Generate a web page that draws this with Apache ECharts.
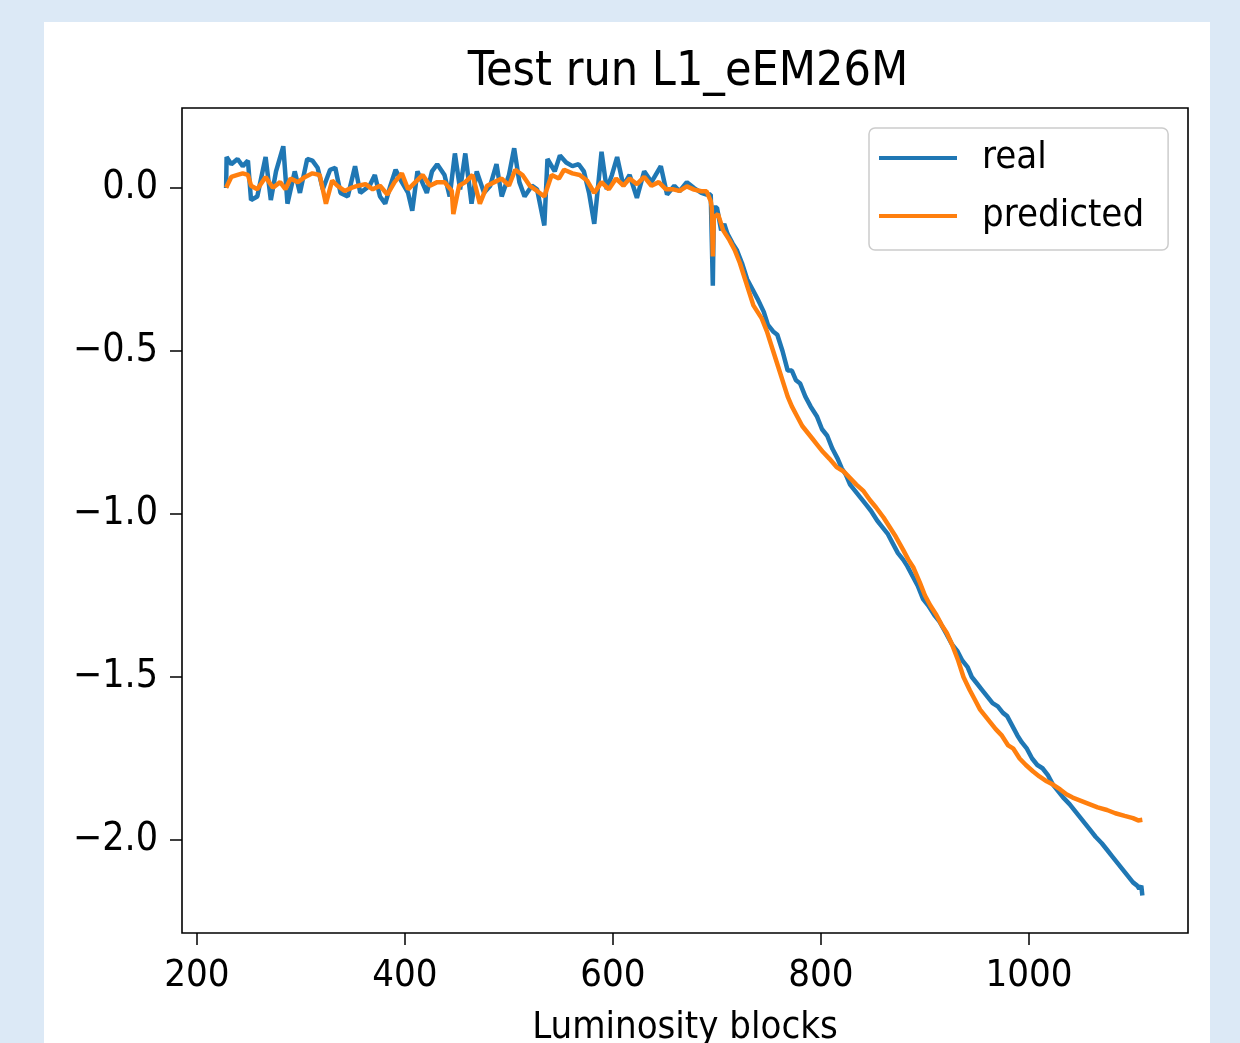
<!DOCTYPE html>
<html>
<head>
<meta charset="utf-8">
<script src="https://cdn.jsdelivr.net/npm/echarts@6/dist/echarts.min.js"></script>
<style>
  html, body { margin: 0; padding: 0; background: #dce9f6; }
  .panel { position: absolute; left: 44px; top: 22px; width: 1166px; height: 1021px; background: #fff; }
  #chart { position: absolute; left: 0; top: 0; width: 1240px; height: 1043px; }
</style>
</head>
<body>
<div class="panel"></div>
<div id="chart"></div>
<script>
// luminosity blocks / normalised rate
const realX = [228, 228.5, 233, 239, 244, 249, 252, 258, 266, 271, 276, 283, 287, 294, 299, 306, 311, 316, 321, 328,
  333, 338, 345, 352, 357, 366, 371, 376, 381, 386, 391, 397, 403, 407, 412, 421, 426, 431, 438, 443,
  448, 453, 458, 464, 469, 476, 482, 488, 493, 500, 505, 510, 515, 522, 527, 534, 537, 544, 549, 555,
  561, 567, 572, 577, 582, 589, 594, 599, 604, 610, 616, 623, 630, 637, 646, 652, 659, 664, 671, 678,
  685, 690, 694, 696, 697, 700, 704, 707, 710, 715, 719, 724, 729, 734, 739, 745, 749, 754, 758, 763,
  768, 772, 776, 780, 785, 790, 796, 801, 806, 811, 816, 820, 824, 828, 833, 838, 843, 848, 854, 859,
  864, 869, 874, 879, 883, 888, 893, 898, 903, 909, 914, 921, 926, 931, 936, 941, 945, 950, 955, 960,
  965, 970, 975, 979, 984, 989, 993, 998, 1003, 1008, 1013, 1018, 1023, 1028, 1033, 1039, 1044, 1049, 1054, 1059,
  1064, 1070, 1075, 1080, 1085, 1090, 1095, 1100, 1104, 1106, 1108, 1109];
const realY = [0.0, 0.095, 0.073, 0.089, 0.067, 0.084, -0.037, -0.026, 0.095, -0.037, 0.051, 0.128, -0.048, 0.051, -0.015, 0.089, 0.084, 0.062, -0.004, 0.056,
  0.062, -0.015, -0.026, 0.067, -0.015, 0.007, 0.040, -0.026, -0.048, 0.007, 0.056, 0.018, -0.015, -0.070, 0.051, -0.015, 0.051, 0.073, 0.040, -0.026,
  0.106, -0.004, 0.106, -0.048, 0.051, -0.015, 0.007, 0.073, -0.026, 0.040, 0.122, 0.018, -0.026, 0.007, -0.004, -0.115, 0.089, 0.051, 0.100, 0.078,
  0.067, 0.073, 0.051, -0.015, -0.110, 0.111, -0.004, 0.040, 0.095, 0.007, 0.040, -0.030, 0.051, 0.018, 0.067, -0.020, 0.007, -0.010, 0.018, 0.000,
  -0.015, -0.020, -0.020, -0.300, -0.060, -0.060, -0.130, -0.110, -0.140, -0.170, -0.190, -0.230, -0.280, -0.310, -0.340, -0.380, -0.420, -0.440, -0.450, -0.500,
  -0.560, -0.560, -0.590, -0.600, -0.640, -0.670, -0.700, -0.740, -0.760, -0.800, -0.830, -0.860, -0.880, -0.910, -0.930, -0.950, -0.970, -0.990, -1.020, -1.040,
  -1.060, -1.090, -1.120, -1.140, -1.160, -1.190, -1.220, -1.260, -1.280, -1.310, -1.330, -1.370, -1.400, -1.420, -1.450, -1.470, -1.500, -1.520, -1.540, -1.560,
  -1.580, -1.590, -1.610, -1.620, -1.650, -1.680, -1.700, -1.720, -1.750, -1.770, -1.780, -1.800, -1.830, -1.850, -1.870, -1.890, -1.910, -1.930, -1.950, -1.970,
  -1.990, -2.010, -2.030, -2.050, -2.070, -2.090, -2.110, -2.130, -2.140, -2.150, -2.140, -2.170];

const predX = [228, 233, 239, 244, 249, 252, 258, 266, 273, 280, 285, 290, 297, 304, 311, 318, 324, 330, 335, 342,
  349, 355, 362, 369, 376, 383, 390, 397, 403, 410, 417, 424, 431, 438, 445, 446.5, 452, 458, 465, 472,
  479, 486, 493, 500, 506, 513, 520, 527, 534, 541, 548, 553, 561, 568, 575, 582, 589, 596, 603, 610,
  616, 623, 630, 637, 644, 651, 658, 664, 671, 678, 685, 690, 694, 695, 696, 697, 701, 706, 712, 717,
  722, 727, 731, 735, 739, 743, 748, 754, 759, 764, 768, 772, 777, 782, 787, 792, 797, 802, 808, 815,
  822, 828, 834, 841, 847, 853, 860, 866, 872, 879, 884, 889, 895, 900, 905, 911, 916, 921, 926, 932,
  937, 943, 948, 953, 958, 963, 968, 974, 980, 985, 991, 997, 1004, 1010, 1017, 1023, 1030, 1036, 1042, 1050,
  1058, 1066, 1075, 1083, 1092, 1100, 1105, 1109];
const predY = [0.001, 0.034, 0.040, 0.045, 0.040, 0.007, -0.004, 0.034, 0.001, 0.018, -0.004, 0.029, 0.018, 0.034, 0.045, 0.040, -0.048, 0.023, 0.007, -0.009,
  0.001, 0.007, 0.012, -0.004, 0.007, -0.020, 0.018, 0.045, -0.004, 0.018, 0.040, 0.007, 0.018, 0.018, -0.009, -0.080, 0.007, 0.018, 0.040, -0.048,
  0.007, 0.018, 0.029, 0.007, 0.056, 0.040, 0.007, -0.009, -0.026, 0.040, 0.029, 0.056, 0.045, 0.040, 0.023, -0.015, 0.018, -0.004, 0.029, 0.007,
  0.029, 0.012, 0.034, 0.007, 0.018, -0.004, -0.004, -0.009, 0.005, -0.005, -0.010, -0.010, -0.040, -0.060, -0.210, -0.090, -0.080, -0.130, -0.160, -0.190,
  -0.230, -0.280, -0.320, -0.360, -0.380, -0.400, -0.440, -0.500, -0.550, -0.600, -0.640, -0.670, -0.700, -0.730, -0.750, -0.770, -0.790, -0.810, -0.830, -0.856,
  -0.870, -0.890, -0.910, -0.930, -0.957, -0.980, -1.010, -1.040, -1.070, -1.110, -1.140, -1.165, -1.210, -1.250, -1.280, -1.310, -1.340, -1.365, -1.400, -1.450,
  -1.500, -1.540, -1.570, -1.600, -1.620, -1.640, -1.660, -1.680, -1.710, -1.720, -1.750, -1.770, -1.790, -1.805, -1.820, -1.830, -1.845, -1.860, -1.870, -1.880,
  -1.890, -1.900, -1.908, -1.918, -1.926, -1.933, -1.940, -1.938];

const xTicks = [200, 400, 600, 800, 1000];
const yTicks = [-2, -1.5, -1, -0.5, 0];

const font = '"DejaVu Sans Condensed", "DejaVu Sans"';
const zip = (xs, ys) => xs.map((x, i) => [x, ys[i]]);

const myChart = echarts.init(document.getElementById('chart'));
const option = {
  animation: false,
  backgroundColor: 'transparent',
  title: {
    text: 'Test run L1_eEM26M',
    left: 683,
    top: 44,
    textAlign: 'center',
    textStyle: { fontFamily: font, fontSize: 48, fontWeight: 'normal', color: '#000' },
  },
  legend: {
    orient: 'vertical',
    left: 869,
    top: 128,
    padding: [8, 24, 12, 10],
    itemWidth: 78,
    itemHeight: 4,
    itemGap: 14,
    icon: 'rect',
    backgroundColor: 'rgba(255,255,255,0.8)',
    borderColor: '#cccccc',
    borderWidth: 1.5,
    borderRadius: 6,
    textStyle: { fontFamily: font, fontSize: 38, color: '#000', lineHeight: 44, padding: [0, 0, 0, 20] },
  },
  grid: {
    left: 182,
    right: 52,
    top: 108,
    bottom: 110,
    outerBoundsMode: 'none',
    show: true,
    borderColor: '#000',
    borderWidth: 1.6,
  },
  xAxis: {
    type: 'value',
    min: 185.6,
    max: 1152.9,
    name: 'Luminosity blocks',
    nameLocation: 'middle',
    nameGap: 76,
    nameTextStyle: { fontFamily: font, fontSize: 38, color: '#000' },
    axisLine: { show: false, onZero: false },
    axisTick: { show: true, length: 12, customValues: xTicks, lineStyle: { color: '#000', width: 1.5 } },
    axisLabel: {
      customValues: xTicks,
      margin: 24,
      fontFamily: font,
      fontSize: 38,
      color: '#000',
      formatter: (v) => String(v),
    },
    splitLine: { show: false },
  },
  yAxis: {
    type: 'value',
    min: -2.2853,
    max: 0.2454,
    axisLine: { show: false, onZero: false },
    axisTick: { show: true, length: 12, customValues: yTicks, lineStyle: { color: '#000', width: 1.5 } },
    axisLabel: {
      customValues: yTicks,
      margin: 24,
      fontFamily: font,
      fontSize: 39,
      color: '#000',
      formatter: (v) => (v === 0 ? '0.0' : (v < 0 ? '\u2212' : '') + Math.abs(v).toFixed(1)),
    },
    splitLine: { show: false },
  },
  series: [
    {
      name: 'real',
      type: 'line',
      data: zip(realX, realY),
      showSymbol: false,
      color: '#1f77b4',
      lineStyle: { width: 4.5, color: '#1f77b4' },
    },
    {
      name: 'predicted',
      type: 'line',
      data: zip(predX, predY),
      showSymbol: false,
      color: '#ff7f0e',
      lineStyle: { width: 4.5, color: '#ff7f0e' },
    },
  ],
};
myChart.setOption(option);
</script>
</body>
</html>
